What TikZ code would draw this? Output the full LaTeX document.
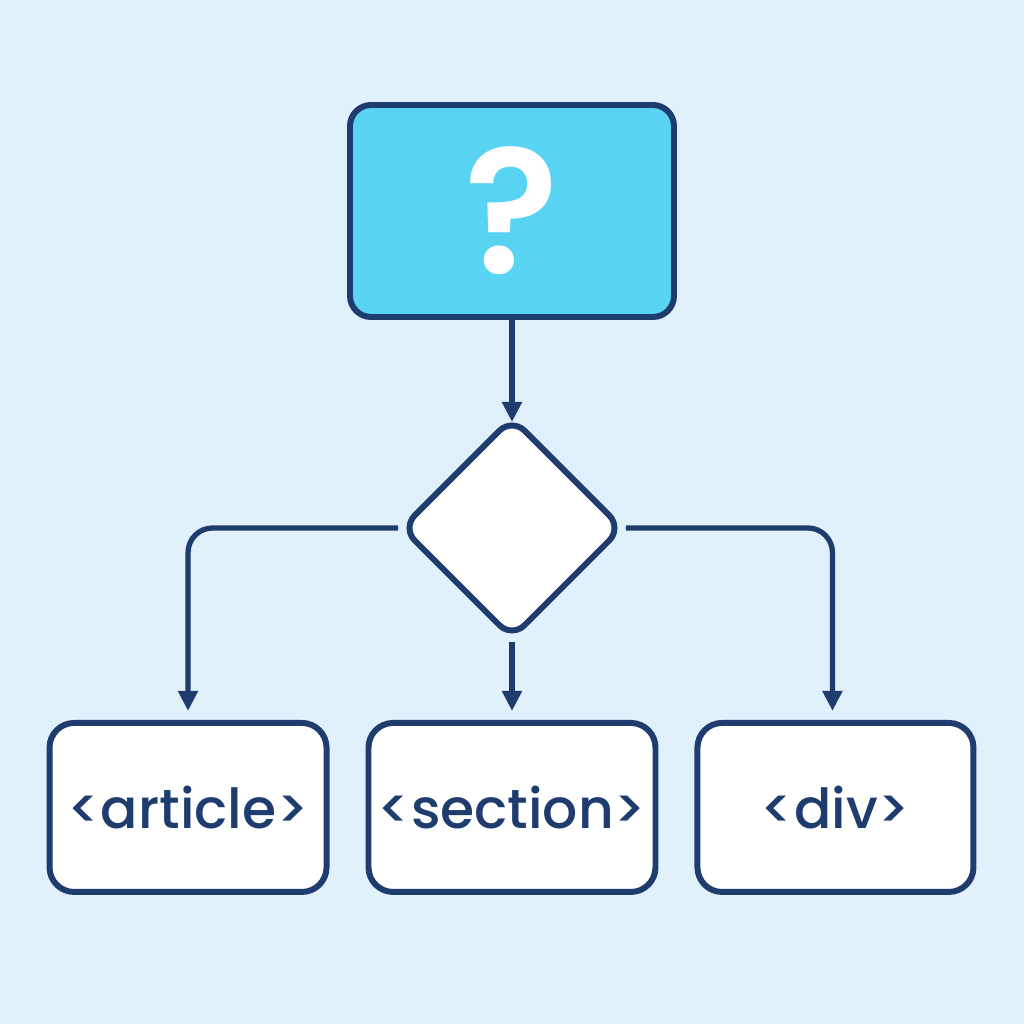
\documentclass[tikz,border=0pt]{standalone}
\usepackage{fontspec}
\setmainfont{Poppins}
\newfontfamily\tagfont{Poppins}[UprightFont=* Medium]
\newfontfamily\questfont{Poppins}[UprightFont=* SemiBold]
\usetikzlibrary{positioning}
\usetikzlibrary{shapes.geometric}
\usetikzlibrary{arrows.meta}
\definecolor{bgblue}{HTML}{E0F1FC}
\definecolor{navy}{HTML}{1F3C6E}
\definecolor{qcyan}{HTML}{58D4F2}
\tikzset{
    tagbox/.style={rectangle, draw=navy, fill=white, line width=1.7pt, rounded corners=7pt, inner sep=0pt, minimum height=1.69cm, text=navy, font=\tagfont\fontsize{15.7}{18}\selectfont},
    conn/.style={draw=navy, line width=1.5pt, -{Triangle[width=0.19cm,length=0.2cm]}},
}

\begin{document}
\begin{tikzpicture}
%Background
\fill[bgblue] (0,0) rectangle (10.24,10.24);
\useasboundingbox (0,0) rectangle (10.24,10.24);

%Nodes
\node[rectangle, draw=navy, fill=qcyan, line width=1.7pt, rounded corners=6pt, minimum width=3.24cm, minimum height=2.12cm, text=white, font=\questfont\fontsize{50}{50}\selectfont] at (5.12, 8.13) (question) {?};
\node[diamond, draw=navy, fill=white, line width=1.7pt, rounded corners=5pt, aspect=1, inner sep=0pt, minimum size=2.22cm] (choice) [below= 0.94cm of question] {};
\node[tagbox, minimum width=2.87cm] (section) [below= 0.78cm of choice] {<section>};
\node[tagbox, minimum width=2.77cm] (article) [left= 0.36cm of section] {<article>};
\node[tagbox, minimum width=2.76cm] (div) [right= 0.36cm of section] {<div>};

%Lines
\draw[conn, shorten >=-0.08cm] (question.south) -- (choice.north);
\draw[conn, rounded corners=7pt, shorten >=0.09cm] (choice.west) -| (article.north);
\draw[conn, shorten >=0.09cm] (choice.south) -- (section.north);
\draw[conn, rounded corners=7pt, shorten >=0.09cm] (choice.east) -| ([xshift=-0.03cm]div.north);

\end{tikzpicture}
\end{document}
